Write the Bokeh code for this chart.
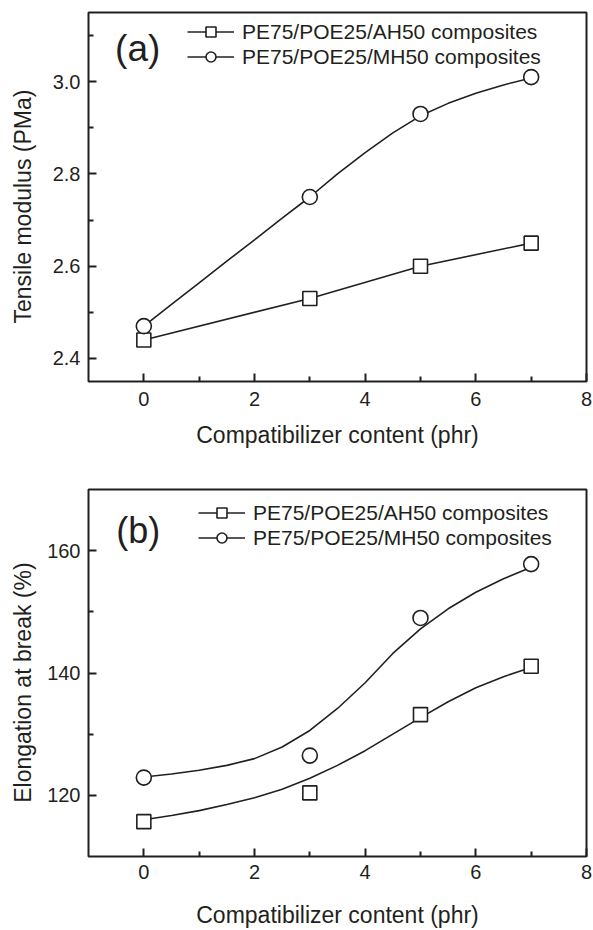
from bokeh.plotting import figure
from bokeh.models import Range1d, FixedTicker, Legend, LegendItem, Label, NumeralTickFormatter
from bokeh.layouts import column
from bokeh.embed import file_html
from bokeh.resources import INLINE

# ---------------- data ----------------
content_phr = [0, 3, 5, 7]

modulus_ah = [2.44, 2.53, 2.60, 2.65]
modulus_mh = [2.47, 2.75, 2.93, 3.01]

elong_ah = [115.7, 120.4, 133.2, 141.1]
elong_mh = [122.9, 126.5, 149.0, 157.8]

# smooth curves
curve_x = [0, 0.5, 1, 1.5, 2, 2.5, 3, 3.5, 4, 4.5, 5, 5.5, 6, 6.5, 7]
modulus_mh_curve = [2.47, 2.517, 2.564, 2.611, 2.657, 2.704, 2.75, 2.80, 2.846,
                    2.889, 2.926, 2.953, 2.975, 2.993, 3.008]
elong_mh_curve = [123.0, 123.5, 124.1, 124.9, 126.0, 127.9, 130.6, 134.2, 138.4,
                  143.2, 147.2, 150.5, 153.2, 155.4, 157.3]
elong_ah_curve = [116.0, 116.7, 117.5, 118.5, 119.6, 121.0, 122.8, 124.9, 127.3,
                  130.0, 132.7, 135.3, 137.6, 139.4, 140.9]

x_major = [0, 2, 4, 6, 8]
x_minor = [1, 3, 5, 7]
mod_major = [2.4, 2.6, 2.8, 3.0]
mod_minor = [2.5, 2.7, 2.9, 3.1]
elo_major = [120, 140, 160]
elo_minor = [130, 150]

label_ah = "PE75/POE25/AH50 composites"
label_mh = "PE75/POE25/MH50 composites"
x_title = "Compatibilizer content (phr)"
y_title_a = "Tensile modulus (PMa)"
y_title_b = "Elongation at break (%)"

INK = "#231f20"
FONT = "Liberation Sans"
NBSP3 = "\u00a0\u00a0\u00a0"   # pads the title so it sits a little lower, as in the original


def make_fig(width, height, yr, mb_left, mb_right, mb_top, mb_bottom,
             tick_standoff, title_standoff, ytitle_standoff):
    p = figure(width=width, height=height, output_backend="svg", toolbar_location=None,
               x_range=Range1d(-1, 8), y_range=Range1d(*yr),
               min_border_left=mb_left, min_border_right=mb_right,
               min_border_top=mb_top, min_border_bottom=mb_bottom)
    p.grid.visible = False
    p.outline_line_color = INK
    p.outline_line_width = 2
    p.outline_line_alpha = 1
    p.background_fill_color = "white"
    p.border_fill_color = "white"
    for ax in (p.xaxis[0], p.yaxis[0]):
        ax.axis_line_color = None
        ax.major_tick_in = 8
        ax.major_tick_out = 0
        ax.minor_tick_in = 5
        ax.minor_tick_out = 0
        ax.major_tick_line_color = INK
        ax.minor_tick_line_color = INK
        ax.major_tick_line_width = 2
        ax.minor_tick_line_width = 2
        ax.major_label_text_font = FONT
        ax.major_label_text_font_size = "20px"
        ax.major_label_text_color = INK
        ax.axis_label_text_font = FONT
        ax.axis_label_text_font_size = "23px"
        ax.axis_label_text_font_style = "normal"
        ax.axis_label_text_color = INK
    p.xaxis[0].major_label_standoff = tick_standoff
    p.yaxis[0].major_label_standoff = 8
    p.xaxis[0].ticker = FixedTicker(ticks=x_major, minor_ticks=x_minor)
    p.xaxis[0].axis_label = x_title
    p.xaxis[0].axis_label_standoff = title_standoff
    p.yaxis[0].axis_label_standoff = ytitle_standoff
    return p


def add_legend(p, r_ah, r_mh, vx, vy):
    leg = Legend(items=[LegendItem(label=label_ah, renderers=r_ah),
                        LegendItem(label=label_mh, renderers=r_mh)],
                 location=(vx, vy), padding=0, margin=0, spacing=0,
                 glyph_width=47, glyph_height=25, label_height=25, label_standoff=8,
                 label_text_font=FONT, label_text_font_size="21px", label_text_color=INK,
                 border_line_alpha=0, background_fill_alpha=0)
    p.add_layout(leg)


# ---------------- (a) tensile modulus ----------------
p1 = make_fig(593, 470, (2.35, 3.15), 83, 7, 12, 89, 10, 13, 14)
p1.yaxis[0].ticker = FixedTicker(ticks=mod_major, minor_ticks=mod_minor)
p1.yaxis[0].formatter = NumeralTickFormatter(format="0.0")
p1.yaxis[0].axis_label = y_title_a + NBSP3

l_ah1 = p1.line(content_phr, modulus_ah, line_color=INK, line_width=1.6)
l_mh1 = p1.line(curve_x, modulus_mh_curve, line_color=INK, line_width=1.6)
s_ah1 = p1.scatter(content_phr, modulus_ah, marker="square", size=14, fill_color="white",
                   line_color=INK, line_width=1.6)
s_mh1 = p1.scatter(content_phr, modulus_mh, marker="circle", size=15, fill_color="white",
                   line_color=INK, line_width=1.6)
add_legend(p1, [l_ah1, s_ah1], [l_mh1, s_mh1], 99, 312)
p1.add_layout(Label(x=-0.52, y=3.073, text="(a)", text_font=FONT, text_font_size="37px",
                    text_color=INK, text_baseline="middle", text_align="left"))

# ---------------- (b) elongation at break ----------------
p2 = make_fig(593, 460, (110, 170), 88, 5, 19, 74, 8, 20, 8)
p2.yaxis[0].ticker = FixedTicker(ticks=elo_major, minor_ticks=elo_minor)
p2.yaxis[0].formatter = NumeralTickFormatter(format="0")
p2.yaxis[0].axis_label = y_title_b + NBSP3

l_ah2 = p2.line(curve_x, elong_ah_curve, line_color=INK, line_width=1.6)
l_mh2 = p2.line(curve_x, elong_mh_curve, line_color=INK, line_width=1.6)
s_ah2 = p2.scatter(content_phr, elong_ah, marker="square", size=14, fill_color="white",
                   line_color=INK, line_width=1.6)
s_mh2 = p2.scatter(content_phr, elong_mh, marker="circle", size=15, fill_color="white",
                   line_color=INK, line_width=1.6)
add_legend(p2, [l_ah2, s_ah2], [l_mh2, s_mh2], 110, 306)
p2.add_layout(Label(x=-0.50, y=163.3, text="(b)", text_font=FONT, text_font_size="36px",
                    text_color=INK, text_baseline="middle", text_align="left"))

layout = column(p1, p2, spacing=0)
open("out.html", "w").write(file_html(layout, INLINE))
